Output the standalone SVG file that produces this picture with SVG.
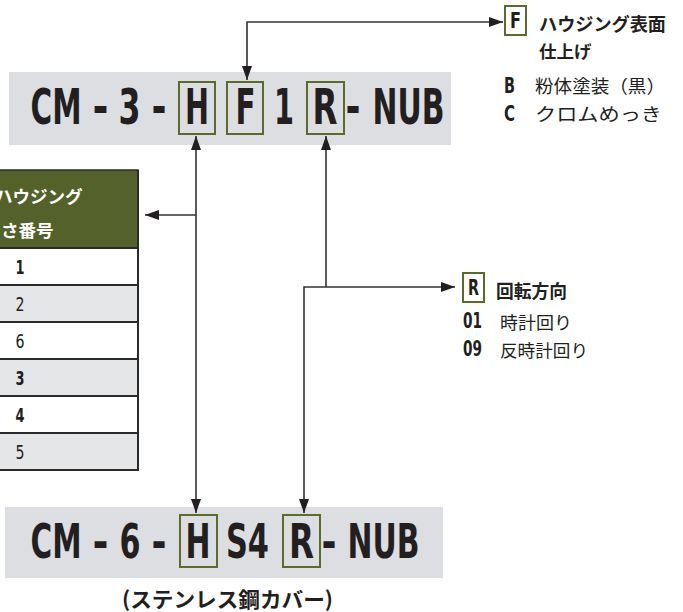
<svg xmlns="http://www.w3.org/2000/svg" width="683" height="612" viewBox="0 0 683 612">
<style>
.band{fill:#dcdee2}
.code{font-family:"DejaVu Sans",sans-serif;font-stretch:condensed;font-weight:bold;fill:#231f20;text-anchor:middle}
.big{font-size:50px}
.big2{font-size:48px}
.box{fill:none;stroke:#5b6b2b;stroke-width:2}
.lbox{fill:#fff;stroke:#5b6b2b;stroke-width:2}
.jp{font-family:"Noto Sans CJK JP",sans-serif;fill:#231f20}
.jpb{font-family:"Noto Sans CJK JP",sans-serif;font-weight:bold;fill:#231f20}
.num{font-family:"DejaVu Sans",sans-serif;font-stretch:condensed;fill:#231f20;text-anchor:middle;font-size:19px}
.numb{font-weight:bold}
.lg{font-family:"DejaVu Sans",sans-serif;font-stretch:condensed;font-weight:bold;fill:#231f20;font-size:22px}
.conn{fill:none;stroke:#333;stroke-width:1.6}
.rowline{stroke:#2b2b2b;stroke-width:2}
</style>
<defs>
<marker id="ah" viewBox="0 0 14 10" refX="14" refY="5" markerWidth="14" markerHeight="10" markerUnits="userSpaceOnUse" orient="auto-start-reverse">
<path d="M0,0 L14,5 L0,10 Z" fill="#231f20"/>
</marker>
</defs>

<g id="top-code">
<rect class="band" x="9" y="72" width="442" height="73"/>
<rect class="box" x="179" y="82" width="36" height="52"/>
<rect class="box" x="227" y="82" width="36" height="52"/>
<rect class="box" x="307" y="82" width="37" height="52"/>
<text class="code big" x="56" y="124" textLength="51" lengthAdjust="spacingAndGlyphs">CM</text>
<text class="code big" x="100.5" y="124" textLength="16" lengthAdjust="spacingAndGlyphs">-</text>
<text class="code big" x="129.5" y="124" textLength="22" lengthAdjust="spacingAndGlyphs">3</text>
<text class="code big" x="159" y="124" textLength="15" lengthAdjust="spacingAndGlyphs">-</text>
<text class="code big" x="197" y="124" textLength="24" lengthAdjust="spacingAndGlyphs">H</text>
<text class="code big" x="245.5" y="124" textLength="20" lengthAdjust="spacingAndGlyphs">F</text>
<text class="code big" x="284" y="124" textLength="20" lengthAdjust="spacingAndGlyphs">1</text>
<text class="code big" x="325" y="124" textLength="25" lengthAdjust="spacingAndGlyphs">R</text>
<text class="code big" x="353" y="124" textLength="15" lengthAdjust="spacingAndGlyphs">-</text>
<text class="code big" x="408.5" y="124" textLength="72" lengthAdjust="spacingAndGlyphs">NUB</text>
</g>

<g id="bottom-code">
<rect class="band" x="5" y="507" width="438" height="71"/>
<rect class="box" x="180" y="515" width="37" height="52"/>
<rect class="box" x="283" y="515" width="37" height="52"/>
<text class="code big2" x="56" y="558" textLength="51" lengthAdjust="spacingAndGlyphs">CM</text>
<text class="code big2" x="100.5" y="558" textLength="16" lengthAdjust="spacingAndGlyphs">-</text>
<text class="code big2" x="130" y="558" textLength="21" lengthAdjust="spacingAndGlyphs">6</text>
<text class="code big2" x="159" y="558" textLength="15" lengthAdjust="spacingAndGlyphs">-</text>
<text class="code big2" x="198" y="558" textLength="25" lengthAdjust="spacingAndGlyphs">H</text>
<text class="code big2" x="247.5" y="558" textLength="43" lengthAdjust="spacingAndGlyphs">S4</text>
<text class="code big2" x="301.5" y="558" textLength="25" lengthAdjust="spacingAndGlyphs">R</text>
<text class="code big2" x="329" y="558" textLength="15" lengthAdjust="spacingAndGlyphs">-</text>
<text class="code big2" x="383.5" y="558" textLength="72" lengthAdjust="spacingAndGlyphs">NUB</text>
<text class="jpb" x="122" y="607" font-size="21" textLength="211" lengthAdjust="spacingAndGlyphs">(ステンレス鋼カバー)</text>
</g>

<g id="length-table">
<rect x="-2" y="170" width="140" height="78" fill="#55612a" stroke="#2b2b2b" stroke-width="1.5"/>
<text class="jpb" x="-5" y="203" font-size="17.5" style="fill:#fff">ハウジング</text>
<text class="jpb" x="1" y="237" font-size="17.5" style="fill:#fff">さ番号</text>
<rect x="-2" y="248" width="140" height="37" fill="#fff"/>
<rect x="-2" y="285" width="140" height="37" fill="#e5e6e8"/>
<rect x="-2" y="322" width="140" height="37" fill="#fff"/>
<rect x="-2" y="359" width="140" height="37" fill="#e5e6e8"/>
<rect x="-2" y="396" width="140" height="37" fill="#fff"/>
<rect x="-2" y="433" width="140" height="37" fill="#e5e6e8"/>
<line class="rowline" x1="-2" y1="248" x2="138" y2="248"/>
<line class="rowline" x1="-2" y1="285" x2="138" y2="285"/>
<line class="rowline" x1="-2" y1="322" x2="138" y2="322"/>
<line class="rowline" x1="-2" y1="359" x2="138" y2="359"/>
<line class="rowline" x1="-2" y1="396" x2="138" y2="396"/>
<line class="rowline" x1="-2" y1="433" x2="138" y2="433"/>
<line class="rowline" x1="-2" y1="470" x2="138" y2="470"/>
<line class="rowline" x1="138" y1="170" x2="138" y2="471"/>
<text class="num numb" x="20" y="274" textLength="9" lengthAdjust="spacingAndGlyphs">1</text>
<text class="num" x="20" y="311" textLength="9" lengthAdjust="spacingAndGlyphs">2</text>
<text class="num" x="20" y="348" textLength="9" lengthAdjust="spacingAndGlyphs">6</text>
<text class="num numb" x="20" y="385" textLength="9" lengthAdjust="spacingAndGlyphs">3</text>
<text class="num numb" x="20" y="422" textLength="9" lengthAdjust="spacingAndGlyphs">4</text>
<text class="num" x="20" y="459" textLength="9" lengthAdjust="spacingAndGlyphs">5</text>
</g>

<g id="finish-legend">
<rect class="lbox" x="505" y="6" width="21" height="29"/>
<text class="code" x="515.5" y="28" font-size="22" textLength="11" lengthAdjust="spacingAndGlyphs">F</text>
<text class="jpb" x="539" y="31" font-size="18" textLength="127" lengthAdjust="spacingAndGlyphs">ハウジング表面</text>
<text class="jpb" x="539" y="58" font-size="17.5">仕上げ</text>
<text class="lg" x="504" y="93" textLength="11" lengthAdjust="spacingAndGlyphs">B</text>
<text class="jp" x="535" y="93" font-size="18" textLength="130" lengthAdjust="spacingAndGlyphs">粉体塗装（黒）</text>
<text class="lg" x="504" y="121" textLength="11" lengthAdjust="spacingAndGlyphs">C</text>
<text class="jp" x="535" y="121" font-size="18" textLength="127" lengthAdjust="spacingAndGlyphs">クロムめっき</text>
</g>

<g id="rotation-legend">
<rect class="lbox" x="463" y="273" width="21" height="29"/>
<text class="code" x="473.5" y="295" font-size="22" textLength="11" lengthAdjust="spacingAndGlyphs">R</text>
<text class="jpb" x="496" y="298" font-size="18" textLength="71" lengthAdjust="spacingAndGlyphs">回転方向</text>
<text class="lg" x="463" y="328" textLength="19" lengthAdjust="spacingAndGlyphs">01</text>
<text class="jp" x="500" y="329" font-size="17.5" textLength="72" lengthAdjust="spacingAndGlyphs">時計回り</text>
<text class="lg" x="463" y="356" textLength="19" lengthAdjust="spacingAndGlyphs">09</text>
<text class="jp" x="500" y="357" font-size="17.5" textLength="88" lengthAdjust="spacingAndGlyphs">反時計回り</text>
</g>

<g id="connectors">
<path class="conn" d="M247,80 V22 H503" marker-start="url(#ah)" marker-end="url(#ah)"/>
<path class="conn" d="M196,136 V513" marker-start="url(#ah)" marker-end="url(#ah)"/>
<path class="conn" d="M196,215 H145" marker-end="url(#ah)"/>
<path class="conn" d="M326,136 V287" marker-start="url(#ah)"/>
<path class="conn" d="M304,513 V287 H455" marker-start="url(#ah)" marker-end="url(#ah)"/>
</g>
</svg>
